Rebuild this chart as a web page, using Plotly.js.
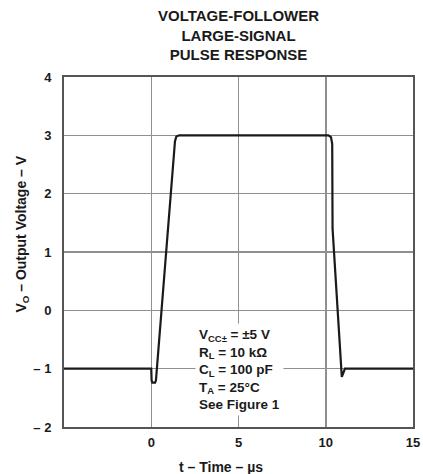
<!DOCTYPE html>
<html>
<head>
<meta charset="utf-8">
<script src="https://cdn.plot.ly/plotly-3.0.1.min.js"></script>
<style>html,body{margin:0;padding:0;background:#fff;}#chart{width:423px;height:474px;}</style>
</head>
<body>
<div id="chart"></div>
<script>
// Data
const timeUs = [-5, 0, 0.02, 0.06, 0.22, 0.27, 1.36, 1.44, 1.6, 10.15, 10.3, 10.37, 10.39, 10.92, 11.0, 11.1, 15];
const voltageV = [-1, -1, -1.2, -1.24, -1.24, -1.2, 2.9, 2.98, 3, 3, 2.97, 2.85, 1.4, -1.14, -1.08, -1, -1];

const xTickVals = [0, 5, 10, 15];
const xTickText = ["0", "5", "10", "15"];
const yTickVals = [-2, -1, 0, 1, 2, 3, 4];
const yTickText = ["– 2", "– 1", "0", "1", "2", "3", "4"];

const titleText = "VOLTAGE-FOLLOWER<br>LARGE-SIGNAL<br>PULSE RESPONSE";
const xTitle = "t – Time – µs";
const yTitle = "V<sub>O</sub> – Output Voltage – V";
const conditions = "V<sub>CC±</sub> = ±5 V<br>R<sub>L</sub> = 10 kΩ<br>C<sub>L</sub> = 100 pF<br>T<sub>A</sub> = 25°C<br>See Figure 1";

const FONT = "Liberation Sans, Arial, Helvetica, sans-serif";

const trace = {
  x: timeUs, y: voltageV, type: "scatter", mode: "lines",
  line: {color: "#1a1a1a", width: 2.2}, hoverinfo: "skip"
};

const layout = {
  width: 423, height: 474,
  margin: {l: 64, r: 10, t: 77, b: 47},
  paper_bgcolor: "#fff", plot_bgcolor: "#fff",
  showlegend: false,
  font: {family: FONT, color: "#1a1a1a"},
  xaxis: {
    range: [-5, 15], tickvals: xTickVals, ticktext: xTickText,
    showgrid: true, gridcolor: "#8f8f8f", gridwidth: 1.5,
    showline: true, mirror: true, linecolor: "#555", linewidth: 2,
    ticks: "", zeroline: false,
    tickfont: {family: FONT, size: 13, weight: "bold", color: "#1a1a1a"},
    ticklabelstandoff: 2, fixedrange: true
  },
  yaxis: {
    range: [-2, 4], tickvals: yTickVals, ticktext: yTickText,
    showgrid: true, gridcolor: "#8f8f8f", gridwidth: 1.5,
    showline: true, mirror: true, linecolor: "#555", linewidth: 2,
    ticks: "", zeroline: false,
    tickfont: {family: FONT, size: 13, weight: "bold", color: "#1a1a1a"},
    ticklabelstandoff: 8, fixedrange: true
  },
  annotations: [
    {
      text: titleText, xref: "paper", yref: "paper",
      x: 0.5, y: 1.12, xanchor: "center", yanchor: "middle", align: "center",
      showarrow: false, font: {family: FONT, size: 15, weight: "bold", color: "#1a1a1a"}
    },
    {
      text: xTitle, xref: "paper", yref: "paper",
      x: 0.45, y: -0.114, xanchor: "center", yanchor: "middle",
      showarrow: false, font: {family: FONT, size: 14, weight: "bold", color: "#1a1a1a"}
    },
    {
      text: yTitle, xref: "paper", yref: "paper",
      x: -0.12, y: 0.55, xanchor: "center", yanchor: "middle", textangle: -90,
      showarrow: false, font: {family: FONT, size: 14, weight: "bold", color: "#1a1a1a"}
    },
    {
      text: conditions, xref: "paper", yref: "paper",
      x: 0.375, y: 0.163, xanchor: "left", yanchor: "middle", align: "left",
      showarrow: false, bgcolor: "#fff", borderpad: 3,
      font: {family: FONT, size: 13.5, weight: "bold", color: "#1a1a1a"}
    }
  ]
};

Plotly.newPlot("chart", [trace], layout, {displayModeBar: false, staticPlot: true});
</script>
</body>
</html>
